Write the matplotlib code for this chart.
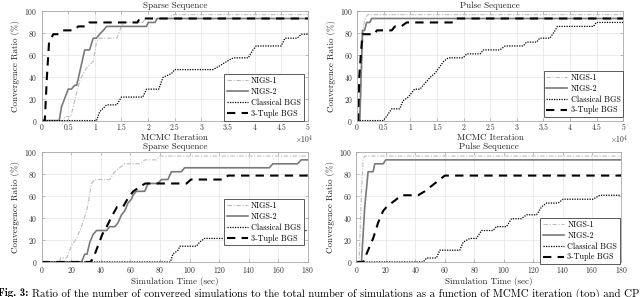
import matplotlib
matplotlib.use("Agg")
import matplotlib.pyplot as plt
from matplotlib.ticker import MultipleLocator, FuncFormatter

plt.rcParams['font.family'] = ['cmr10', 'DejaVu Serif']
plt.rcParams['mathtext.fontset'] = 'cm'
plt.rcParams['axes.formatter.use_mathtext'] = True
plt.rcParams['axes.unicode_minus'] = False

labels = ['NIGS-1', 'NIGS-2', 'Classical BGS', '3-Tuple BGS']

# top-left: Sparse Sequence vs MCMC iteration (x in units of 1e4)
sp_it_n1_x = [0, 0.4, 0.44, 0.55, 0.59, 0.72, 0.84, 0.97, 1.03, 1.09, 1.41, 1.5, 1.55, 1.9, 1.95, 2.4, 2.45, 5]
sp_it_n1_y = [0, 0, 3.6, 3.6, 12, 37, 47.6, 54, 71.4, 75, 75, 85.7, 89.3, 89.3, 92.9, 92.9, 96.4, 96.4]
sp_it_n2_x = [0, 0.33, 0.375, 0.5, 0.56, 0.62, 0.66, 0.81, 0.9, 0.97, 1.03, 1.09, 1.16, 1.22, 1.97, 2.0, 2.13, 2.17, 5]
sp_it_n2_y = [0, 0, 12.7, 28.6, 28.6, 32.1, 32.1, 64.3, 64.3, 75, 75, 78.6, 82.1, 85.7, 85.7, 89.3, 89.3, 92.9, 92.9]
sp_it_cl_x = [0, 1.03, 1.09, 1.22, 1.41, 1.5, 1.9, 1.97, 2.2, 2.28, 2.44, 2.5, 3.22, 3.35, 3.47, 3.6, 3.88, 3.97, 4.03, 4.5, 4.57, 4.8, 4.88, 5]
sp_it_cl_y = [0, 0, 8, 14.3, 14.3, 21.4, 21.4, 28.6, 28.6, 39.3, 42.9, 46.4, 46.4, 50, 53.6, 57.1, 57.1, 64.3, 67.9, 67.9, 75, 75, 78.6, 78.6]
sp_it_tb_x = [0, 0.06, 0.1, 0.14, 0.22, 0.32, 0.4, 0.6, 0.69, 0.85, 0.9, 1.8, 1.84, 5]
sp_it_tb_y = [0, 0, 40, 71.4, 78.6, 78.6, 82.1, 82.1, 85.7, 85.7, 89.3, 89.3, 92.9, 92.9]

# top-right: Pulse Sequence vs MCMC iteration
pu_it_n1_x = [0, 0.05, 0.1, 0.12, 0.15, 0.2, 5]
pu_it_n1_y = [0, 0, 60, 85.7, 92.9, 96.4, 96.4]
pu_it_n2_x = [0, 0.05, 0.1, 0.14, 0.18, 0.24, 0.27, 5]
pu_it_n2_y = [0, 0, 82.1, 82.1, 89.3, 89.3, 92.9, 92.9]
pu_it_cl_x = [0, 0.49, 0.55, 0.65, 0.8, 0.86, 0.96, 1.08, 1.18, 1.24, 1.37, 1.46, 1.62, 1.71, 1.99, 2.06, 2.31, 2.37,
              2.68, 2.78, 3.12, 3.18, 3.37, 3.43, 3.62, 3.72, 3.76, 4.44, 4.49, 5]
pu_it_cl_y = [0, 0, 3.6, 10.7, 10.7, 17.9, 21.4, 28.6, 28.6, 32.1, 39.3, 42.9, 53.6, 57.1, 57.1, 60.7, 60.7, 64.3,
              64.3, 67.9, 67.9, 71.4, 71.4, 75, 75, 82.1, 85.7, 85.7, 89.3, 89.3]
pu_it_tb_x = [0, 0.02, 0.04, 0.07, 0.1, 0.33, 0.37, 0.65, 0.71, 0.83, 0.93, 1.8, 1.85, 5]
pu_it_tb_y = [0, 0, 40, 60, 78.6, 78.6, 82.1, 82.1, 85.7, 85.7, 89.3, 89.3, 92.9, 92.9]

# bottom-left: Sparse Sequence vs simulation time (sec)
sp_t_n1_x = [0, 12, 13, 17, 20, 23.6, 27, 30.4, 31.5, 33.7, 36, 46, 49.5, 52.8, 56, 66, 70, 72, 77.6, 80, 180]
sp_t_n1_y = [0, 0, 3.6, 3.6, 14.3, 21.4, 32.1, 46.4, 53.6, 71.4, 75, 75, 82.1, 85.7, 89.3, 89.3, 92.9, 92.9, 92.9, 96.4, 96.4]
sp_t_n2_x = [0, 27, 29.2, 30.7, 32.6, 34.8, 37.1, 43.9, 46, 49.5, 51.7, 54, 56.2, 58.4, 60.7, 61.8, 64, 69.7, 72, 78.7,
             81, 85.4, 87.7, 94.5, 96.7, 154, 156.3, 173, 175.5, 180]
sp_t_n2_y = [0, 0, 7.1, 7.1, 17.9, 25, 28.6, 28.6, 32.1, 32.1, 35.7, 42.9, 46.4, 53.6, 57.1, 60.7, 64.3, 64.3, 71.4, 71.4,
             75, 75, 82.1, 82.1, 85.7, 85.7, 89.3, 89.3, 92.9, 92.9]
sp_t_cl_x = [0, 87, 88.8, 92.2, 93.5, 104.6, 106.8, 110, 154, 156.3, 158.6, 180]
sp_t_cl_y = [0, 0, 7.1, 10.7, 14.3, 14.3, 17.9, 21.4, 21.4, 25, 28.6, 28.6]
sp_t_tb_x = [0, 33, 35, 38, 41, 44, 48, 51, 55, 58, 62, 66, 70, 98, 101, 123, 126, 180]
sp_t_tb_y = [0, 0, 3.6, 14.3, 25, 32.1, 42.9, 50, 50, 57.1, 64.3, 67.9, 71.4, 71.4, 75, 75, 78.6, 78.6]

# bottom-right: Pulse Sequence vs simulation time (sec)
pu_t_n1_x = [0, 1.8, 3.4, 4.5, 5.6, 180]
pu_t_n1_y = [0, 0, 64.3, 92.9, 96.4, 96.4]
pu_t_n2_x = [0, 3.4, 5.6, 7.9, 11.3, 12.4, 18.1, 19.9, 180]
pu_t_n2_y = [0, 0, 50, 82.1, 82.1, 89.3, 89.3, 92.9, 92.9]
pu_t_cl_x = [0, 45.3, 47.6, 54.3, 56.6, 70.2, 72.4, 77, 81.5, 85, 92.8, 95.1, 101.9, 105.3, 112, 115.5, 122.3, 125.7,
             129, 137, 140.4, 160.7, 165.3, 180]
pu_t_cl_y = [0, 0, 3.6, 3.6, 10.7, 10.7, 17.9, 21.4, 21.4, 28.6, 28.6, 32.1, 32.1, 39.3, 39.3, 42.9, 42.9, 50,
             53.6, 53.6, 57.1, 57.1, 60.7, 60.7]
pu_t_tb_x = [0, 4.5, 7.9, 11.3, 14.7, 18.1, 20.4, 23.8, 27.2, 30.6, 41.9, 46.4, 49.8, 56.6, 60, 180]
pu_t_tb_y = [0, 0, 10.7, 21.4, 35.7, 46.4, 50, 53.6, 57.1, 60.7, 60.7, 64.3, 67.9, 75, 78.6, 78.6]

styles = [dict(color='#bdbdbd', ls=(0, (4, 1.5, 1, 1.5)), lw=0.8),
          dict(color='#7a7a7a', ls='-', lw=1.2),
          dict(color='black', ls=(0, (1, 1)), lw=0.9),
          dict(color='black', ls=(0, (4, 3)), lw=1.5)]

fig = plt.figure(figsize=(6.4, 2.97), dpi=100)

panels = [
    ([0.065, 0.594, 0.416, 0.370], 'Sparse Sequence', 'MCMC Iteration', 1e4,
     [(sp_it_n1_x, sp_it_n1_y), (sp_it_n2_x, sp_it_n2_y), (sp_it_cl_x, sp_it_cl_y), (sp_it_tb_x, sp_it_tb_y)],
     (0.985, 0.0)),
    ([0.558, 0.594, 0.416, 0.370], 'Pulse Sequence', 'MCMC Iteration', 1e4,
     [(pu_it_n1_x, pu_it_n1_y), (pu_it_n2_x, pu_it_n2_y), (pu_it_cl_x, pu_it_cl_y), (pu_it_tb_x, pu_it_tb_y)],
     (1.0, 0.03)),
    ([0.065, 0.118, 0.416, 0.370], 'Sparse Sequence', 'Simulation Time (sec)', 1,
     [(sp_t_n1_x, sp_t_n1_y), (sp_t_n2_x, sp_t_n2_y), (sp_t_cl_x, sp_t_cl_y), (sp_t_tb_x, sp_t_tb_y)],
     (0.985, 0.15)),
    ([0.557, 0.118, 0.414, 0.370], 'Pulse Sequence', 'Simulation Time (sec)', 1,
     [(pu_t_n1_x, pu_t_n1_y), (pu_t_n2_x, pu_t_n2_y), (pu_t_cl_x, pu_t_cl_y), (pu_t_tb_x, pu_t_tb_y)],
     (0.995, -0.02)),
]

for rect, title, xlab, scale, series, anchor in panels:
    ax = fig.add_axes(rect)
    for (xs, ys), st, lab in zip(series, styles, labels):
        ax.plot([x * scale for x in xs], ys, label=lab, **st)
    if scale == 1:
        ax.set_xlim(0, 180)
        ax.xaxis.set_major_locator(MultipleLocator(20))
    else:
        ax.set_xlim(0, 5e4)
        ax.xaxis.set_major_locator(MultipleLocator(5000))
        ax.xaxis.set_major_formatter(FuncFormatter(lambda v, p: f'{v / 1e4:g}'))
        ax.text(1.02, -0.175, r'$\times10^4$', transform=ax.transAxes, ha='right', va='center',
                fontsize=5.5, color='#333333')
    ax.set_ylim(0, 100)
    ax.yaxis.set_major_locator(MultipleLocator(20))
    ax.grid(True, color='#e4e4e4', lw=0.5)
    ax.set_axisbelow(True)
    for sp in ax.spines.values():
        sp.set_color('#a8a8a8')
        sp.set_linewidth(0.6)
    ax.tick_params(direction='in', length=2, width=0.5, color='#a8a8a8', labelsize=5.5,
                   labelcolor='#333333', top=True, right=True)
    ax.tick_params(axis='x', pad=2.5)
    ax.tick_params(axis='y', pad=3)
    ax.set_title(title, fontsize=6.5, pad=2, color='#222222')
    ax.set_xlabel(xlab, fontsize=6.5, labelpad=1, color='#222222')
    ax.set_ylabel('Convergence Ratio (%)', fontsize=6.5, labelpad=3, color='#222222')
    leg = ax.legend(loc='lower right', bbox_to_anchor=anchor, fontsize=5.8, handlelength=2.6,
                    frameon=True, fancybox=False, edgecolor='#404040', framealpha=1,
                    borderpad=0.35, labelspacing=0.3, handletextpad=0.4, borderaxespad=0)
    leg.get_frame().set_linewidth(0.6)

fig.text(-0.003, 0.002, 'Fig. 3:', family='cmb10', fontsize=7.8, va='baseline', ha='left')
fig.text(0.05, 0.002, 'Ratio of the number of converged simulations to the total number of simulations '
         'as a function of MCMC iteration (top) and CPU time (bottom).',
         fontsize=7.8, va='baseline', ha='left')

fig.savefig('out.png', dpi=100)
